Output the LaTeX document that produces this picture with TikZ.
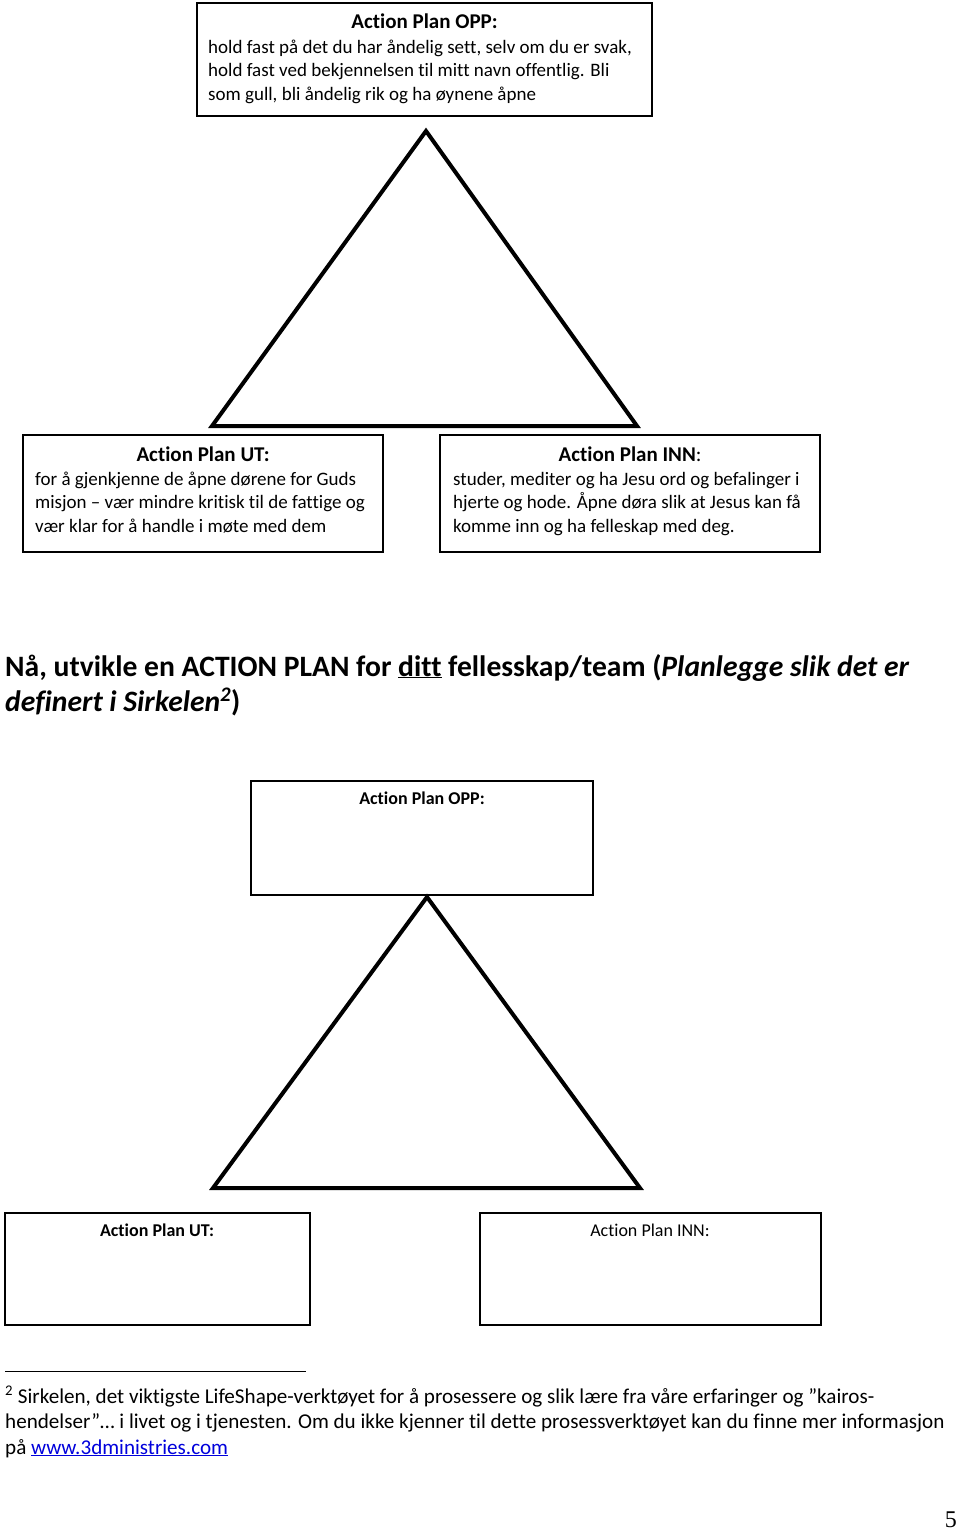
\documentclass[tikz,border=0pt]{standalone}
\usepackage{fontspec}
\setmainfont[Ligatures={TeX,NoCommon}]{Carlito}
\newfontfamily\timesf{Liberation Serif}
\definecolor{linkblue}{RGB}{0,0,220}
\begin{document}
\begin{tikzpicture}[x=1pt,y=-1pt,
  boxs/.style={draw=black,line width=2pt,anchor=north west,inner sep=0pt,outer sep=0pt},
  tri/.style={draw=black,line width=4pt,line join=miter},
  ttl/.style={anchor=base,inner sep=0pt,font=\bfseries\fontsize{21}{25}\selectfont},
  ttls/.style={anchor=base,inner sep=0pt,font=\fontsize{18}{22}\selectfont},
  bodyt/.style={anchor=base west,inner sep=0pt,font=\fontsize{19}{23.5}\selectfont},
  headt/.style={anchor=base west,inner sep=0pt,font=\bfseries\fontsize{29.6}{35}\selectfont},
  foott/.style={anchor=base west,inner sep=0pt,font=\fontsize{21.1}{25.5}\selectfont}]
\fill[white] (0,0) rectangle (960,1531);
\useasboundingbox (0,0) rectangle (960,1531);

% ---------- upper figure ----------
\node[boxs,minimum width=455pt,minimum height=113pt] (opp1) at (197,3) {};
\node[ttl] (opp1t) at (424.5,28) {Action Plan OPP:};
\node[bodyt] (opp1a) at (208,53) {hold fast på det du har åndelig sett, selv om du er svak,};
\node[bodyt] (opp1b) at (208,76.5) {hold fast ved bekjennelsen til mitt navn offentlig. Bli};
\node[bodyt] (opp1c) at (208,100) {som gull, bli åndelig rik og ha øynene åpne};

\coordinate (t1a) at (426,131);
\coordinate (t1l) at (212,426);
\coordinate (t1r) at (637,426);
\draw[tri] (t1a) -- (t1r) -- (t1l) -- cycle;

\node[boxs,minimum width=360pt,minimum height=117pt] (ut1) at (23,435) {};
\node[ttl] (ut1t) at (203,461) {Action Plan UT:};
\node[bodyt] (ut1a) at (35,485) {for å gjenkjenne de åpne dørene for Guds};
\node[bodyt] (ut1b) at (35,508.5) {misjon – vær mindre kritisk til de fattige og};
\node[bodyt] (ut1c) at (35,532) {vær klar for å handle i møte med dem};

\node[boxs,minimum width=380pt,minimum height=117pt] (inn1) at (440,435) {};
\node[ttl] (inn1t) at (630,461) {Action Plan INN\mdseries:};
\node[bodyt] (inn1a) at (453,485) {studer, mediter og ha Jesu ord og befalinger i};
\node[bodyt] (inn1b) at (453,508.5) {hjerte og hode. Åpne døra slik at Jesus kan få};
\node[bodyt] (inn1c) at (453,532) {komme inn og ha felleskap med deg.};

% ---------- heading ----------
\node[headt] (heada) at (5,676)
 {Nå, utvikle en ACTION PLAN for \underline{ditt} fellesskap/team (\textit{Planlegge slik det er}};
\node[headt] (headb) at (5,711)
 {\textit{definert i Sirkelen}\textsuperscript{\textit{2}})};

% ---------- lower figure ----------
\node[boxs,minimum width=342pt,minimum height=114pt] (opp2) at (251,781) {};
\node[ttls,font=\bfseries\fontsize{18}{22}\selectfont] (opp2t) at (422,804) {Action Plan OPP:};

\coordinate (t2a) at (427,897);
\coordinate (t2l) at (213,1188);
\coordinate (t2r) at (640,1188);
\draw[tri] (t2a) -- (t2r) -- (t2l) -- cycle;

\node[boxs,minimum width=305pt,minimum height=112pt] (ut2) at (5,1213) {};
\node[ttls,font=\bfseries\fontsize{18}{22}\selectfont] (ut2t) at (157,1236) {Action Plan UT:};

\node[boxs,minimum width=341pt,minimum height=112pt] (inn2) at (480,1213) {};
\node[ttls] (inn2t) at (650,1236) {Action Plan INN:};

% ---------- footnote ----------
\coordinate (fr1) at (5,1371);
\coordinate (fr2) at (306,1371);
\draw[line width=1pt] (fr1) -- (fr2);
\node[foott] (foota) at (5,1403)
 {\textsuperscript{2} Sirkelen, det viktigste LifeShape-verktøyet for å prosessere og slik lære fra våre erfaringer og ”kairos-};
\node[foott] (footb) at (5,1428.5)
 {hendelser”… i livet og i tjenesten. Om du ikke kjenner til dette prosessverktøyet kan du finne mer informasjon};
\node[foott] (footc) at (5,1454)
 {på \textcolor{linkblue}{\underline{www.3dministries.com}}};

\node[anchor=base east,inner sep=0pt,font=\timesf\fontsize{24}{24}\selectfont] (pg) at (957,1527) {5};
\end{tikzpicture}
\end{document}
